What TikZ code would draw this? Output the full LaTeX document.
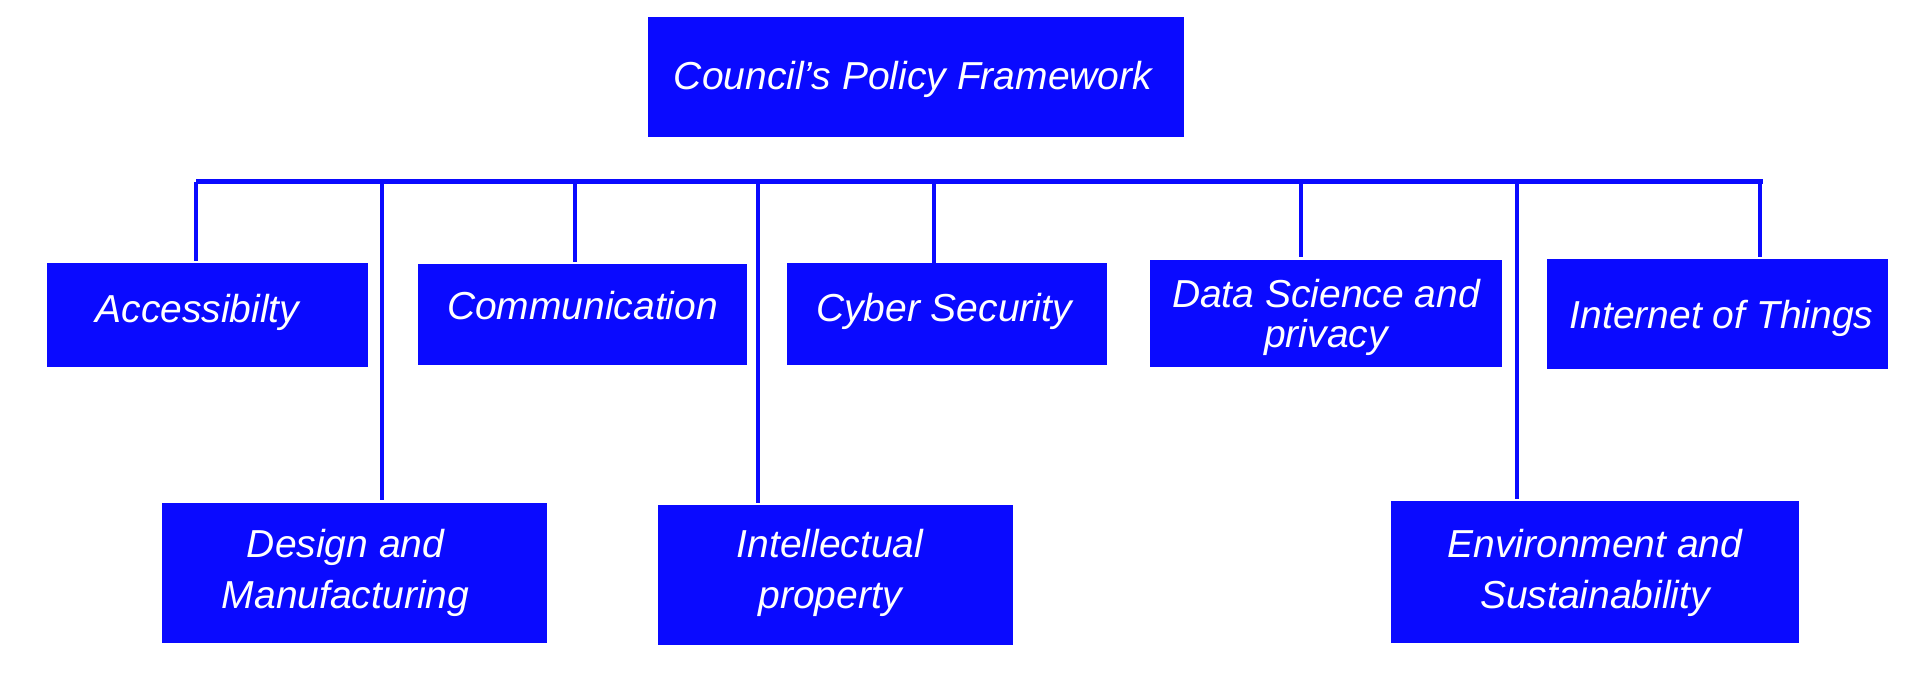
\documentclass[tikz,border=0pt]{standalone}
\usepackage{fontspec}
\setmainfont{Liberation Sans}
\newlength\pxu
\setlength\pxu{0.75pt}
\definecolor{cblue}{RGB}{10,10,255}
\tikzset{
  box/.style={rectangle, fill=cblue, inner sep=0pt},
  lbl/.style={text=white, inner sep=0pt, align=center,
    font=\fontsize{29.25}{38.5}\selectfont\itshape},
  bar/.style={draw=cblue, line width=3.75pt},
  stub/.style={draw=cblue, line width=3pt}
}
\begin{document}
\begin{tikzpicture}[x=0.75pt,y=-0.75pt]
\useasboundingbox (0,0) rectangle (1920,673);
\node[box, minimum width=536\pxu, minimum height=120\pxu] (council) at (916,77) {};
\node[box, minimum width=321\pxu, minimum height=104\pxu] (acc) at (207.5,315) {};
\node[box, minimum width=329\pxu, minimum height=101\pxu] (comm) at (582.5,314.5) {};
\node[box, minimum width=320\pxu, minimum height=102\pxu] (cyber) at (947,314) {};
\node[box, minimum width=352\pxu, minimum height=107\pxu] (data) at (1326,313.5) {};
\node[box, minimum width=341\pxu, minimum height=110\pxu] (iot) at (1717.5,314) {};
\node[box, minimum width=385\pxu, minimum height=140\pxu] (design) at (354.5,573) {};
\node[box, minimum width=355\pxu, minimum height=140\pxu] (ip) at (835,575) {};
\node[box, minimum width=408\pxu, minimum height=142\pxu] (env) at (1595,572) {};
\node[lbl] (council-t) at ([shift={(-3,2)}]council.center) {Council’s Policy Framework};
\node[lbl] (acc-t) at ([shift={(-10,-3)}]acc.center) {Accessibilty};
\node[lbl] (comm-t) at ([shift={(0,-9)}]comm.center) {Communication};
\node[lbl] (cyber-t) at ([shift={(-3,-3)}]cyber.center) {Cyber Security};
\node[lbl, font=\fontsize{29.25}{29.5}\selectfont\itshape] (data-t) at ([shift={(0,4)}]data.center) {Data Science and\\privacy};
\node[lbl] (iot-t) at ([shift={(4,4)}]iot.center) {Internet of Things};
\node[lbl] (design-t) at ([shift={(-9,0)}]design.center) {Design and\\Manufacturing};
\node[lbl] (ip-t) at ([shift={(-5,-2)}]ip.center) {Intellectual\\property};
\node[lbl] (env-t) at ([shift={(0,1)}]env.center) {Environment and\\Sustainability};
\coordinate (barL) at (196,181.5);
\coordinate (barR) at (1763,181.5);
\draw[bar] (barL) -- (barR);
\coordinate (s1) at (196,182);
\coordinate (s2) at (382,182);
\coordinate (s3) at (575,182);
\coordinate (s4) at (758,182);
\coordinate (s5) at (934,182);
\coordinate (s6) at (1301,182);
\coordinate (s7) at (1517,182);
\coordinate (s8) at (1760,182);
\draw[stub] (s1) -- ([yshift=1pt]s1 |- acc.north);
\draw[stub] (s2) -- ([yshift=2pt]s2 |- design.north);
\draw[stub] (s3) -- ([yshift=1pt]s3 |- comm.north);
\draw[stub] (s4) -- ([yshift=1.5pt]s4 |- ip.north);
\draw[stub] (s5) -- (s5 |- cyber.north);
\draw[stub] (s6) -- ([yshift=2pt]s6 |- data.north);
\draw[stub] (s7) -- ([yshift=1pt]s7 |- env.north);
\draw[stub] (s8) -- ([yshift=1.5pt]s8 |- iot.north);
\end{tikzpicture}
\end{document}
